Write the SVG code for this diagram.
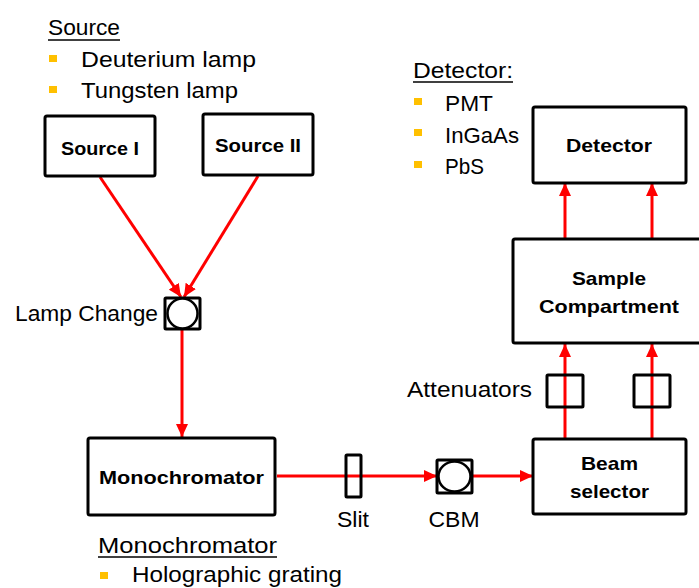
<svg xmlns="http://www.w3.org/2000/svg" width="699" height="588" viewBox="0 0 699 588">
<style>
text{font-family:"Liberation Sans",Arial,sans-serif;fill:#000}
.t{font-size:22px}
.b{font-size:19px;font-weight:bold}
.box{fill:#fff;stroke:#000;stroke-width:3}
.ring{fill:#fff;stroke:#000;stroke-width:2.5}
.ray{stroke:#f00;stroke-width:3;fill:none}
.bul{fill:#FFC000}
.ul{stroke:#000;stroke-width:1.6}
</style>
<defs>
<marker id="ah" markerUnits="userSpaceOnUse" markerWidth="14" markerHeight="12" refX="13" refY="6" orient="auto">
<path d="M0,0 L13,6 L0,12 Z" fill="#f00"/>
</marker>
</defs>
<rect width="699" height="588" fill="#fff"/>

<g id="source-list">
<text class="t" x="48" y="35" textLength="72" lengthAdjust="spacingAndGlyphs">Source</text>
<line class="ul" x1="48" y1="40" x2="120" y2="40"/>
<rect class="bul" x="49" y="55" width="8" height="7"/>
<text class="t" x="81" y="67" textLength="175" lengthAdjust="spacingAndGlyphs">Deuterium lamp</text>
<rect class="bul" x="49" y="86" width="8" height="7"/>
<text class="t" x="81" y="98" textLength="157" lengthAdjust="spacingAndGlyphs">Tungsten lamp</text>
</g>

<g id="detector-list">
<text class="t" x="413" y="78" textLength="100" lengthAdjust="spacingAndGlyphs">Detector:</text>
<line class="ul" x1="413" y1="82" x2="513" y2="82"/>
<rect class="bul" x="414" y="98" width="8" height="7"/>
<text class="t" x="445" y="111" textLength="48" lengthAdjust="spacingAndGlyphs">PMT</text>
<rect class="bul" x="414" y="129" width="8" height="7"/>
<text class="t" x="445" y="143" textLength="74" lengthAdjust="spacingAndGlyphs">InGaAs</text>
<rect class="bul" x="414" y="161" width="8" height="7"/>
<text class="t" x="445" y="174" textLength="39" lengthAdjust="spacingAndGlyphs">PbS</text>
</g>

<g id="mono-list">
<text class="t" x="98" y="553" textLength="179" lengthAdjust="spacingAndGlyphs">Monochromator</text>
<line class="ul" x1="98" y1="557" x2="277" y2="557"/>
<rect class="bul" x="100" y="572" width="8" height="7"/>
<text class="t" x="132" y="582" textLength="210" lengthAdjust="spacingAndGlyphs">Holographic grating</text>
</g>

<g id="connectors">
<line class="ray" x1="100" y1="177" x2="181" y2="297" marker-end="url(#ah)"/>
<line class="ray" x1="258" y1="176" x2="184" y2="297" marker-end="url(#ah)"/>
<line class="ray" x1="182" y1="330" x2="182" y2="437" marker-end="url(#ah)"/>
<line class="ray" x1="277" y1="476" x2="437" y2="476" marker-end="url(#ah)"/>
<line class="ray" x1="473" y1="476" x2="533" y2="476" marker-end="url(#ah)"/>
<line class="ray" x1="565" y1="439" x2="565" y2="344" marker-end="url(#ah)"/>
<line class="ray" x1="652" y1="439" x2="652" y2="344" marker-end="url(#ah)"/>
<line class="ray" x1="565" y1="239" x2="565" y2="183" marker-end="url(#ah)"/>
<line class="ray" x1="652" y1="239" x2="652" y2="183" marker-end="url(#ah)"/>
</g>

<g id="source1">
<rect class="box" x="45" y="116" width="110" height="60" rx="2"/>
<text class="b" x="100" y="155" text-anchor="middle" textLength="78" lengthAdjust="spacingAndGlyphs">Source I</text>
</g>
<g id="source2">
<rect class="box" x="203" y="114" width="110" height="61" rx="2"/>
<text class="b" x="258" y="152" text-anchor="middle" textLength="86" lengthAdjust="spacingAndGlyphs">Source II</text>
</g>

<g id="lamp-change">
<rect class="box" x="165" y="298" width="35" height="31" rx="1"/>
<circle class="ring" cx="182.5" cy="313.5" r="15"/>
<text class="t" x="158" y="321" text-anchor="end" textLength="143" lengthAdjust="spacingAndGlyphs">Lamp Change</text>
</g>

<g id="monochromator">
<rect class="box" x="88" y="438" width="187" height="77" rx="2"/>
<text class="b" x="181.5" y="484" text-anchor="middle" textLength="165" lengthAdjust="spacingAndGlyphs">Monochromator</text>
</g>

<g id="slit">
<rect class="box" x="346" y="455" width="15" height="42" rx="1" style="fill:none"/>
<text class="t" x="353" y="527" text-anchor="middle" textLength="32" lengthAdjust="spacingAndGlyphs">Slit</text>
</g>

<g id="cbm">
<rect class="box" x="437" y="460" width="35" height="33" rx="1"/>
<ellipse class="ring" cx="454.5" cy="476.5" rx="16" ry="15"/>
<text class="t" x="454" y="527" text-anchor="middle" textLength="51" lengthAdjust="spacingAndGlyphs">CBM</text>
</g>

<g id="beam-selector">
<rect class="box" x="533" y="439" width="153" height="75" rx="2"/>
<text class="b" x="609.5" y="470" text-anchor="middle" textLength="57" lengthAdjust="spacingAndGlyphs">Beam</text>
<text class="b" x="609.5" y="498" text-anchor="middle" textLength="79" lengthAdjust="spacingAndGlyphs">selector</text>
</g>

<g id="attenuators">
<rect class="box" x="547" y="375" width="36" height="32" rx="1" style="fill:none"/>
<rect class="box" x="634" y="375" width="36" height="32" rx="1" style="fill:none"/>
<text class="t" x="532" y="397" text-anchor="end" textLength="125" lengthAdjust="spacingAndGlyphs">Attenuators</text>
</g>

<g id="sample-compartment">
<rect class="box" x="513" y="239" width="192" height="104" rx="2"/>
<text class="b" x="609" y="285" text-anchor="middle" textLength="74" lengthAdjust="spacingAndGlyphs">Sample</text>
<text class="b" x="609" y="313" text-anchor="middle" textLength="140" lengthAdjust="spacingAndGlyphs">Compartment</text>
</g>

<g id="detector">
<rect class="box" x="533" y="107" width="153" height="76" rx="2"/>
<text class="b" x="609" y="152" text-anchor="middle" textLength="86" lengthAdjust="spacingAndGlyphs">Detector</text>
</g>
</svg>
